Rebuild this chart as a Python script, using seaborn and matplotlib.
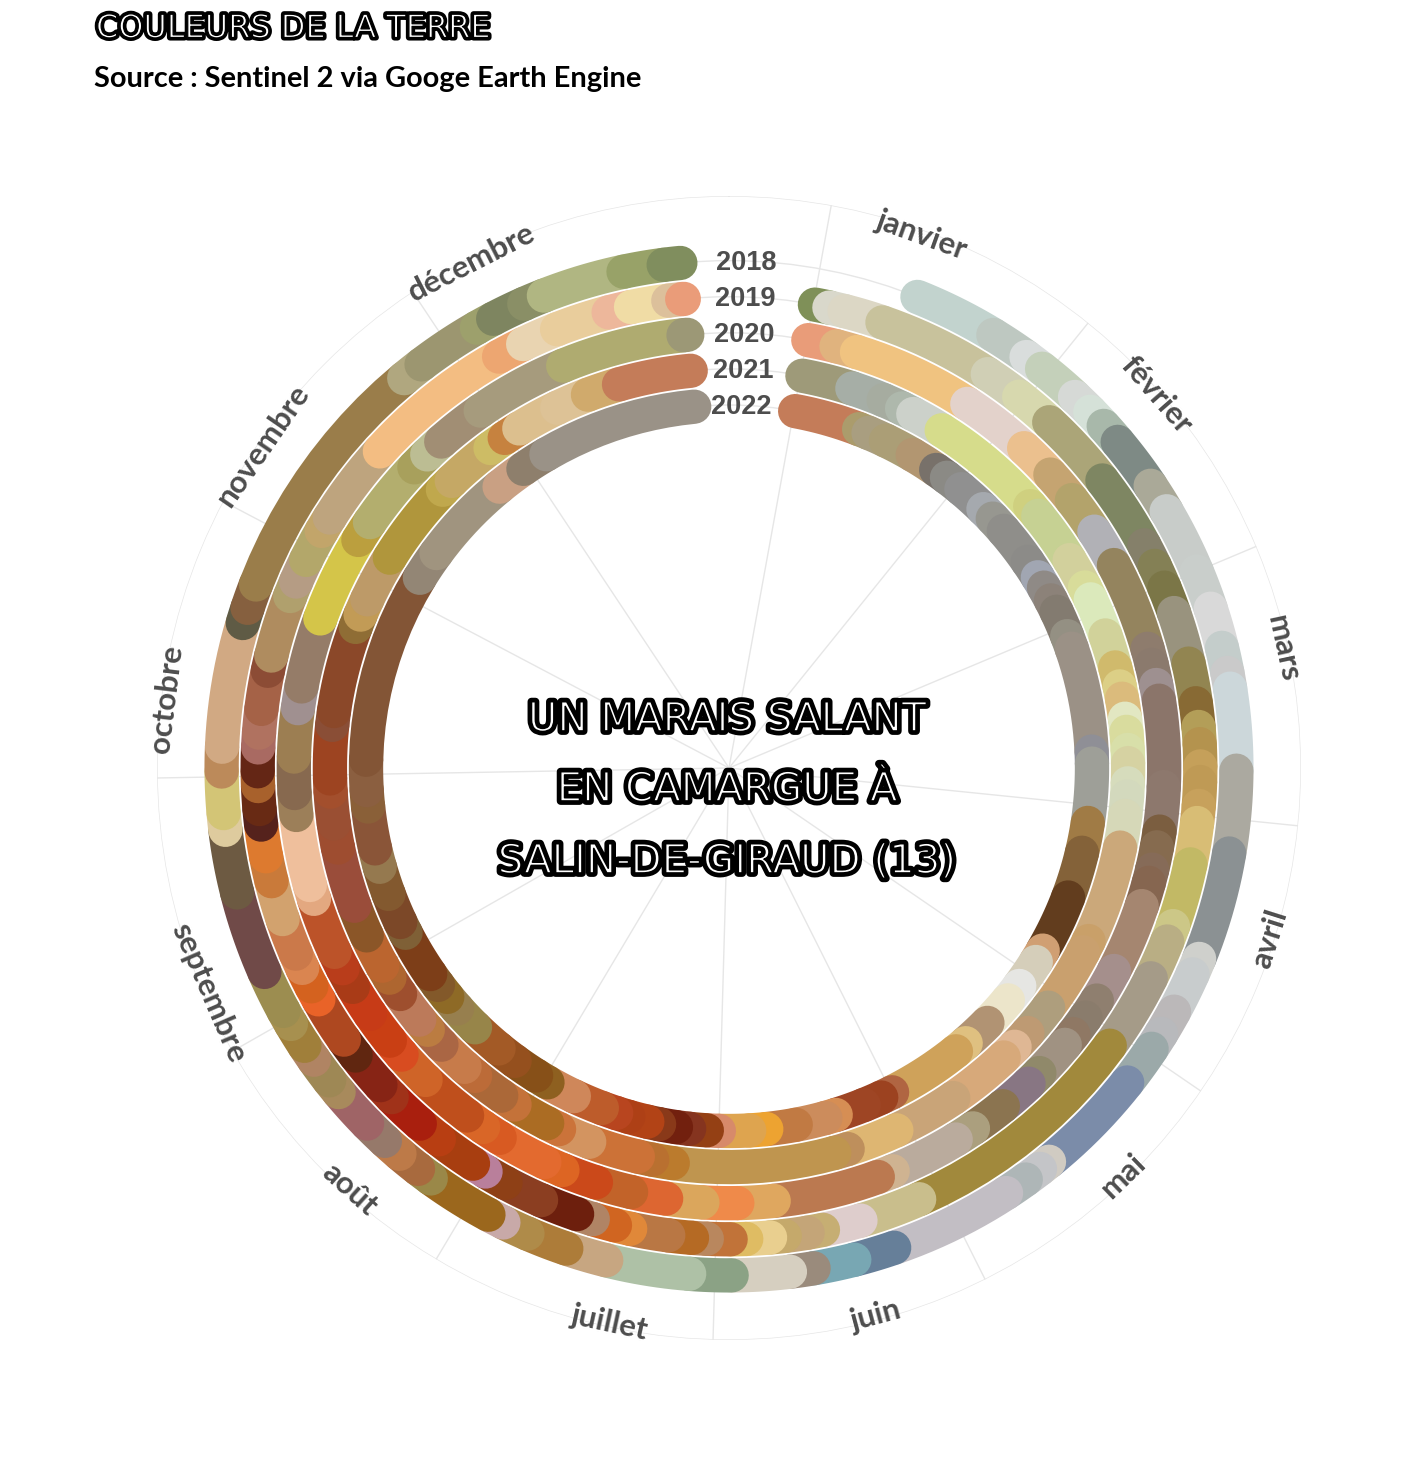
import numpy as np
import pandas as pd
import matplotlib
matplotlib.use("Agg")
import matplotlib.pyplot as plt
import matplotlib.patheffects as pe
import seaborn as sns

annees = ["2018", "2019", "2020", "2021", "2022"]
mois = ["janvier", "février", "mars", "avril", "mai", "juin", "juillet", "août",
        "septembre", "octobre", "novembre", "décembre"]
angles_mois = [10.3, 38.9, 67.2, 95.8, 124.4, 153.4, 181.6, 210.8, 240.3, 269, 297.8, 326.4]
angles_labels = [19.8, 48.9, 77.8, 107.5, 136, 165, 192.2, 222, 246.6, 277, 304.6, 333]

# angle (degrés depuis le haut, sens horaire) du début de chaque image et sa couleur
debut_2018 = [21.8, 31.4, 35.9, 38.1, 43, 45.4, 47.6, 50, 56.2, 59.6, 67.2, 71.7, 76.3, 79.2, 81, 90.3, 99.7,
              112.1, 114, 118.7, 121.6, 123.6, 128.3, 140.9, 142.2, 144.2, 146.9, 161, 165.7, 170.4, 173.1,
              179.7, 184.5, 194, 198.7, 203.4, 206.4, 208.3, 216, 217.8, 220.5, 222.7, 225.5, 230.3, 232,
              234.9, 236.8, 239.7, 241.4, 246.3, 255.8, 263, 264.9, 269.6, 272.4, 286.6, 288.4, 291.2,
              320.2, 322.7, 330.2, 332.3, 336.2, 338.6, 348, 352.6]
couleurs_2018 = ["#c2d3ce", "#bec8c1", "#d9dddc", "#c4d0ba", "#d6d9d6", "#d5e1d8", "#a8b8aa", "#7e8a85", "#aaa998",
                 "#c8ccc9", "#c9cecb", "#d9d9d9", "#c4cdcb", "#cacaca", "#ccd7da", "#aba9a0", "#8b9193",
                 "#cfd0cc", "#c8cccd", "#bbb8b9", "#b8b9bc", "#9ba9a9", "#7b8ca9", "#d0cbc2", "#c4c5c8", "#aeb6b7",
                 "#c2bec4", "#667f99", "#78a7b3", "#9a8b7c", "#d6cfc0", "#8ba285", "#aec1a6", "#c7a681", "#ad7c39",
                 "#af8b49", "#c8a9a8", "#9b671d", "#9a8848", "#a86a3e", "#bd7a48", "#96796a", "#9f6466", "#a88a5c",
                 "#9e8855", "#b08463", "#a07f3a", "#a7904f", "#9c8d50", "#704a48", "#6d5a42", "#decb9e", "#d3c576",
                 "#bc8a5a", "#d1a983", "#5f5b45", "#86603f", "#9a7d4a", "#b0a77f", "#9c9670", "#9da06c", "#7e8560",
                 "#8a8f66", "#b0b682", "#98a268", "#808e5e"]

debut_2019 = [10.5, 12.3, 14.2, 19, 33.3, 38, 42.8, 52.4, 61.8, 64.6, 67.5, 70.8, 77.2, 82.1, 85, 87.1, 89.8, 91.7,
              94.6, 96.7, 101.8, 109.6, 111.6, 116.5, 126.1, 156.2, 163.8, 168.5, 170.4, 173.2, 175, 177.9, 179.8,
              182.7, 184.5, 187.4, 192.1, 194, 196.8, 198.8, 203.5, 208.3, 211.1, 212.9, 218, 221, 225.7, 227.7,
              232.4, 234.8, 240.6, 242.4, 244.9, 246.8, 251.3, 256.1, 259.2, 263.1, 265, 267.8, 269.6, 272.5,
              274.3, 277.2, 281.9, 283.8, 291.4, 293.3, 296.2, 300.2, 302.1, 312.2, 330.8, 334.1, 338.6, 345.2,
              348, 352.6, 354.3]
couleurs_2019 = ["#7f9058", "#d9d8cb", "#dcd7c5", "#c8c29c", "#d0cfb5", "#d7d8ae", "#aba578", "#7e8662", "#85806a",
                 "#848055", "#7b7647", "#99937e", "#928551", "#886a34", "#b39e58", "#b4934e", "#c5a05a", "#bf9a55",
                 "#c7a15c", "#d8bd75", "#c2b965", "#ccc787", "#b9ae84", "#a59b88", "#a1893c", "#c9be8c", "#decdcc",
                 "#c6ae73", "#c4a578", "#c5a96b", "#e9cf8f", "#dfbc63", "#c17339", "#b9875e", "#b56a24", "#b97744",
                 "#e08839", "#d06521", "#b08465", "#6d1f0d", "#8b3e21", "#8e4016", "#b97f9b", "#a83e10", "#b83e12",
                 "#a91f0e", "#a03219", "#872415", "#602610", "#ae4820", "#e96328", "#d4621f", "#da8550", "#cb794a",
                 "#d2a26e", "#c97a3a", "#dd7a2f", "#55221c", "#682a14", "#a8612c", "#642615", "#a96a62", "#b07260",
                 "#a56247", "#8c4c35", "#af8c5f", "#b0a06d", "#b59c84", "#b3a76a", "#c2a56a", "#bea47e", "#f3bd82",
                 "#eda671", "#e9d4b1", "#e9cd9c", "#edb79b", "#f0dca5", "#dcc09b", "#ea9c79"]

debut_2020 = [10.5, 14.3, 17.1, 33.2, 42.7, 47.6, 52, 57.1, 62.2, 74.1, 76.3, 79, 81.1, 92.5, 98.4, 100.5, 103.5,
              105.3, 108.5, 117.8, 122.3, 125, 127.7, 129.5, 134.5, 136.5, 141, 145.9, 148.6, 157.9, 160, 174.1,
              178.9, 183.5, 188.3, 193, 197.8, 202.5, 205.1, 211.8, 214.4, 217, 224.2, 228.8, 231.2, 235.6, 239.8,
              242.6, 245, 252.5, 254.4, 263.8, 266.7, 271.5, 277.9, 280.8, 290.1, 301.6, 304.4, 313.7, 316.1,
              318.6, 325.2, 337.6, 354]
couleurs_2020 = ["#e99c79", "#e0b37e", "#f0c380", "#e3d2cb", "#ebc08e", "#c5a471", "#b3a36b", "#b1b1b6", "#94845e",
                 "#8e7c6d", "#8b7a6d", "#9e9090", "#8b756a", "#8d786d", "#7b5e40", "#866b4f", "#866b58", "#866650",
                 "#a58670", "#a58f8c", "#8f7f6f", "#8a7c6c", "#8f7864", "#a09282", "#90896a", "#887683", "#8b7450",
                 "#ab9f7e", "#baab9d", "#cfb391", "#bb7950", "#dfa75f", "#ef8a4a", "#dba65c", "#dd6631", "#c26329",
                 "#cb491a", "#dd6523", "#e36a2f", "#d85a22", "#d96627", "#bf4f1c", "#cf6428", "#d84c20", "#c93f14",
                 "#c73b17", "#a93b17", "#b93d1b", "#bc5329", "#e3a880", "#efbf9c", "#9c7f59", "#87694f", "#9c7e52",
                 "#a09090", "#957c68", "#d4c549", "#bb9f3e", "#b3ae6e", "#a8a05c", "#bcbd93", "#a18e74", "#a69b7d",
                 "#afab70", "#9c9876"]

debut_2021 = [10.6, 18, 22.8, 25.7, 27.5, 32.2, 49, 50.8, 58.6, 63.1, 65, 70.6, 75.4, 78.2, 80, 82.9, 84.8, 87.4,
              89.3, 92.2, 94.1, 96.9, 101.5, 115.7, 117.5, 126.9, 131.6, 134.3, 136.5, 145.8, 155.2, 162.7, 164.7,
              188.1, 191.1, 193.2, 200.5, 205.2, 207.1, 212.5, 214.8, 219.5, 221.5, 226.1, 229, 230.9, 235.5,
              238.3, 240.3, 245.2, 249.8, 258.5, 262, 266.6, 268.5, 276.2, 278.2, 290.7, 292.6, 295, 301.8, 314.2,
              316, 323.3, 325.8, 328.3, 334.5, 339.3, 344]
couleurs_2021 = ["#9e9a79", "#a6aea6", "#a6aca0", "#aeb8ac", "#ccd1ca", "#d6dc8b", "#cfd07f", "#c6d193", "#d2d09c",
                 "#d8dc9a", "#dbe9bb", "#d1d29a", "#d0ba6c", "#dccf86", "#dbbb7c", "#e2e7c2", "#d9dc9e", "#d8dfa9",
                 "#d6d2a2", "#d6dcbc", "#d3d9bd", "#d6d8b8", "#cba87a", "#c9a069", "#c9a06e", "#ae9e7d", "#be9a73",
                 "#dfb794", "#d7a97a", "#c9a478", "#deb672", "#be8f5c", "#bf954f", "#bb7b2d", "#b97030", "#cc7237",
                 "#d39460", "#cb733a", "#ab6c23", "#c47239", "#ab6838", "#bc6b38", "#c77b4a", "#aa6644", "#bb7c41",
                 "#bc7a5a", "#9e4f2e", "#ae6630", "#bb652f", "#8b5628", "#9a4d3a", "#9e4d30", "#9a4f33", "#a34f2d",
                 "#9d4421", "#8a4e36", "#8b4829", "#8f6d35", "#c29b56", "#bd9a68", "#b0963c", "#c0a84d", "#c5a865",
                 "#cdbc65", "#c6823f", "#dcbf8e", "#ddc296", "#d0aa6c", "#c47c59"]

debut_2022 = [10.5, 21, 22.6, 25.6, 30.4, 34.8, 36.9, 39.8, 44.5, 46.6, 49.2, 55.4, 58.3, 60.2, 62.5, 64.5, 68.7,
              70.8, 87.4, 89.3, 98.7, 103.5, 110.9, 120.2, 122.3, 126.9, 129.8, 134.6, 139.3, 141.3, 153.3, 155.2,
              158.2, 162.9, 164.6, 169.4, 174.1, 176.8, 181.6, 183.5, 186.3, 188.4, 191.1, 193, 196.1, 198.1,
              200.5, 205.3, 210, 212.1, 216.2, 219.4, 224.4, 228.5, 230.9, 233.3, 235.4, 243, 244.9, 249.7, 254.2,
              257.2, 263.9, 266.5, 271.3, 301.6, 306.3, 320.8, 325.5, 329.8]
couleurs_2022 = ["#c47c59", "#ab9c6c", "#a99e80", "#ab9e76", "#b29671", "#78716a", "#8b8a85", "#909090", "#a5a9ae",
                 "#979790", "#8f8e8a", "#8c8b88", "#a1a6b2", "#8f8a86", "#8c8279", "#837b70", "#949083", "#9b9186",
                 "#8f8f96", "#9e9f98", "#a07b45", "#846239", "#623d1e", "#d09f73", "#d5ceba", "#e6e6e3", "#ece5ca",
                 "#b19373", "#dfc080", "#cfa25a", "#b06542", "#9c4220", "#9e4524", "#d68e54", "#cc8c5c", "#c17a43",
                 "#eda331", "#dea44f", "#d78a6a", "#944014", "#85341f", "#72200e", "#893919", "#b24316", "#ae4016",
                 "#b8451f", "#bd5c2b", "#cf875a", "#8e6020", "#875018", "#95501e", "#a35a26", "#978549", "#977f4e",
                 "#8e6a26", "#83592a", "#7d3e18", "#7f6036", "#7c4828", "#83592f", "#95794f", "#8a5538", "#8a6038",
                 "#8b5f40", "#835536", "#938675", "#a0947f", "#c9a083", "#8e7f6c", "#9a9287"]

fin_annee = 354.5

debuts = [debut_2018, debut_2019, debut_2020, debut_2021, debut_2022]
couleurs = [couleurs_2018, couleurs_2019, couleurs_2020, couleurs_2021, couleurs_2022]

# construction du tableau : un groupe par segment, découpé finement pour suivre l'arc
lignes = []
palette = {}
for i, annee in enumerate(annees):
    fins = debuts[i][1:] + [fin_annee]
    for j, (d, f, c) in enumerate(zip(debuts[i], fins, couleurs[i])):
        seg = annee + "_" + str(j)
        palette[seg] = c
        for t in np.linspace(d, f, 12):
            lignes.append({"theta": np.deg2rad(t), "anneau": 5 - i, "segment": seg})
df = pd.DataFrame(lignes)

sns.set_theme(style="white")
plt.rcParams["font.family"] = ["Lato", "DejaVu Sans"]

fig = plt.figure(figsize=(14.21, 14.6), dpi=100)
ax = fig.add_axes([157 / 1421, 120 / 1460, 1144 / 1421, 1144 / 1460], projection="polar")
ax.set_theta_zero_location("N")
ax.set_theta_direction(-1)

sns.lineplot(data=df, x="theta", y="anneau", hue="segment", hue_order=list(palette), palette=palette,
             estimator=None, sort=False, legend=False, linewidth=24.7, solid_capstyle="round", ax=ax)

# grille : rayons des mois et cercles des années
ax.set_xticks(np.deg2rad(angles_mois))
ax.set_xticklabels([])
ax.set_ylim(-9.055, 6.79)
ax.set_yticks([1, 2, 3, 4, 5, 6.79])
ax.set_yticklabels([])
ax.set_xlabel("")
ax.set_ylabel("")
ax.grid(True, color="#e6e6e6", linewidth=1.0)
ax.spines["polar"].set_visible(False)
for l in ax.get_lines():
    l.set_zorder(3)

for nom, a in zip(mois, angles_labels):
    rot = 180 - a if 90 < a < 270 else -a
    ax.text(np.deg2rad(a), 6.65, nom, rotation=rot, rotation_mode="anchor", ha="center", va="center",
            fontsize=22.5, fontweight="bold", color="#4d4d4d", clip_on=False, zorder=5)

for i, annee in enumerate(annees):
    ax.text(np.deg2rad(2), 5 - i - 0.05, annee, ha="center", va="center", fontsize=19.5, fontweight="bold",
            family="Liberation Sans", color="#4d4d4d", zorder=5)

# imitation d'une police "inline" : blanc fin au milieu, contour noir épais
inline = [pe.Stroke(linewidth=5.6, foreground="black"), pe.Stroke(linewidth=1.2, foreground="black")]
for txt, y in zip(["UN MARAIS SALANT", "EN CAMARGUE À", "SALIN-DE-GIRAUD (13)"], [720, 790, 862]):
    fig.text(727 / 1421, 1 - y / 1460, txt, ha="center", va="center", fontsize=29, color="white",
             family="DejaVu Sans", path_effects=inline, zorder=10)

fig.text(96 / 1421, 1 - 29 / 1460, "COULEURS DE LA TERRE", ha="left", va="center", fontsize=23, color="white",
         family="DejaVu Sans", path_effects=[pe.Stroke(linewidth=4.4, foreground="black"),
                                             pe.Stroke(linewidth=0.9, foreground="black")])
fig.text(94 / 1421, 1 - 79 / 1460, "Source : Sentinel 2 via Googe Earth Engine", ha="left", va="center",
         fontsize=20.9, fontweight="bold", color="black")

fig.savefig("out.png", dpi=100, facecolor="white")
